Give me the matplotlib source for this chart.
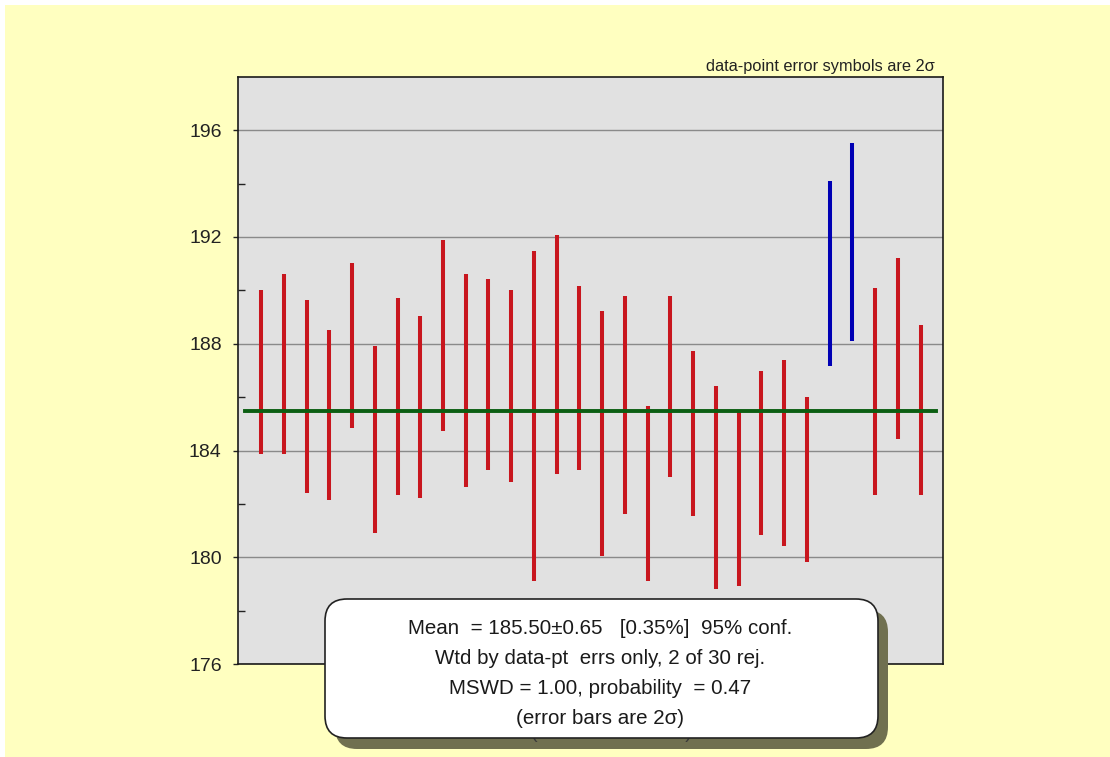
import numpy as np
import matplotlib
matplotlib.use('Agg')
import matplotlib.pyplot as plt
from matplotlib.patches import Rectangle, FancyBboxPatch
from matplotlib.transforms import IdentityTransform

plt.rcParams['font.family'] = ['Liberation Sans', 'DejaVu Sans']

# ------------------------------ Data -----------------------------------

# 2-sigma error bar ends for each of the 30 analyses
err_low = [183.86, 183.86, 182.42, 182.15, 184.83, 180.92, 182.32, 182.22, 184.74, 182.65,
           183.26, 182.84, 179.13, 183.11, 183.26, 180.04, 181.63, 179.13, 183.02, 181.54,
           178.83, 178.92, 180.85, 180.42, 179.83, 187.16, 188.12, 182.32, 184.43, 182.32]
err_high = [190.00, 190.60, 189.64, 188.50, 191.03, 187.90, 189.72, 189.03, 191.90, 190.60,
            190.42, 190.00, 191.49, 192.09, 190.17, 189.21, 189.80, 185.68, 189.80, 187.72,
            186.43, 185.47, 186.97, 187.39, 186.00, 194.09, 195.53, 190.10, 191.21, 188.71]

# analyses rejected from the weighted mean (1-based)
rejected = [26, 27]

# weighted mean result
wtd_mean = 185.50
mean_err = 0.65
mean_pct = 0.35
mswd = 1.00
prob = 0.47
n_total = 30

y_ticks = [176, 180, 184, 188, 192, 196]
y_minor = [178, 182, 186, 190, 194]

# ------------------------------ Plotting -----------------------------------

fig = plt.figure(figsize=(11.1, 7.57), dpi=100, facecolor='white')

# pale yellow page behind everything
fig.patches.append(Rectangle((5 / 1110, 0), 1, 1 - 5 / 757, transform=fig.transFigure,
                             facecolor='#ffffc0', edgecolor='none', zorder=-10))

ax = fig.add_axes([0.2147, 0.1225, 0.6351, 0.7762])
ax.set_facecolor('#e1e1e1')

x = np.arange(1, n_total + 1)
colors = ['#0000b4' if i in rejected else '#c8161e' for i in x]
ax.vlines(x, err_low, err_high, colors=colors, linewidth=2.9, zorder=3)

# weighted mean line
ax.plot([0.3, 30.7], [wtd_mean, wtd_mean], color='#0b5e12', linewidth=2.8, zorder=4)

ax.set_xlim(0, 31)
ax.set_ylim(176, 198)
ax.set_xticks([])
ax.set_yticks(y_ticks)
ax.set_yticks(y_minor, minor=True)
ax.yaxis.grid(True, which='major', color='#8a8a8a', linewidth=1.0)
ax.set_axisbelow(True)
ax.tick_params(axis='y', which='major', direction='out', length=3.5, width=1,
               labelsize=14, colors='#222222', pad=8.5)
ax.tick_params(axis='y', which='minor', direction='in', length=5, width=1, color='#222222')
for spine in ax.spines.values():
    spine.set_color('#1a1a1a')
    spine.set_linewidth(1.2)

# note on the error symbols
fig.text(935 / 1110, 1 - 67 / 757, 'data-point error symbols are 2\u03c3',
         ha='right', va='center', fontsize=11.8, color='#222222')

# ------------------------------ Result box -----------------------------------

shadow = FancyBboxPatch((335, 8), 553, 139, boxstyle='round,pad=0,rounding_size=22',
                        transform=IdentityTransform(), facecolor='#707050',
                        edgecolor='none', zorder=2)
box = FancyBboxPatch((325, 19), 553, 139, boxstyle='round,pad=0,rounding_size=22',
                     transform=IdentityTransform(), facecolor='white',
                     edgecolor='#222222', linewidth=1.2, zorder=4)
fig.patches.extend([shadow, box])

# second copy of the footnote sits behind the box, only its edges show
fig.text(611 / 1110, 1 - 738 / 757, '(error bars are 2\u03c3)', ha='center', va='baseline',
         fontsize=14, color='#3a3a3a', zorder=3)

lines = [
    f'Mean  = {wtd_mean:.2f}\u00b1{mean_err:.2f}   [{mean_pct:.2f}%]  95% conf.',
    f'Wtd by data-pt  errs only, {len(rejected)} of {n_total} rej.',
    f'MSWD = {mswd:.2f}, probability  = {prob:.2f}',
    '(error bars are 2\u03c3)',
]
for line, ypix in zip(lines, [628, 659, 689, 719]):
    fig.text(600 / 1110, 1 - ypix / 757, line, ha='center', va='center',
             fontsize=14.8, color='#1a1a1a', zorder=5)

fig.savefig('out.png', dpi=100, facecolor=fig.get_facecolor())
